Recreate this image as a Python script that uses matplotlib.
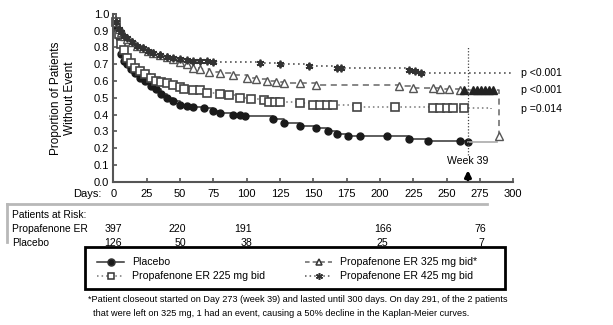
import matplotlib
matplotlib.use("Agg")
import matplotlib.pyplot as plt
from matplotlib.lines import Line2D
from matplotlib.patches import Rectangle
from matplotlib.transforms import blended_transform_factory

plt.rcParams['font.family'] = ['Liberation Sans', 'DejaVu Sans']

# Kaplan-Meier curves
placebo_days = [0, 2, 4, 6, 8, 10, 13, 16, 20, 24, 28, 32, 36, 40, 45, 50, 55, 60, 68, 75, 80, 90, 95, 99,
                120, 128, 140, 152, 161, 168, 176, 185, 205, 222, 236, 260, 266]
placebo_surv = [1.0, 0.93, 0.86, 0.76, 0.72, 0.70, 0.67, 0.65, 0.62, 0.60, 0.57, 0.55, 0.52, 0.50, 0.48, 0.46,
                0.452, 0.447, 0.437, 0.42, 0.41, 0.40, 0.395, 0.39, 0.374, 0.352, 0.332, 0.32, 0.305, 0.285,
                0.272, 0.27, 0.27, 0.255, 0.245, 0.24, 0.235]

er225_days = [0, 2, 4, 6, 8, 10, 13, 16, 20, 24, 28, 32, 36, 40, 45, 50, 53, 60, 65, 70, 80, 87, 95, 103,
              113, 117, 121, 125, 140, 150, 155, 160, 165, 183, 211, 240, 245, 250, 255, 263, 283]
er225_surv = [1.0, 0.95, 0.88, 0.82, 0.785, 0.74, 0.71, 0.68, 0.66, 0.64, 0.62, 0.60, 0.597, 0.59, 0.578,
              0.565, 0.55, 0.548, 0.545, 0.53, 0.52, 0.515, 0.50, 0.495, 0.487, 0.475, 0.473, 0.472, 0.47,
              0.46, 0.458, 0.457, 0.456, 0.447, 0.446, 0.44, 0.44, 0.44, 0.44, 0.438, 0.435]

er325_days = [0, 2, 4, 6, 8, 10, 14, 18, 22, 26, 30, 35, 40, 45, 50, 55, 60, 65, 72, 80, 90, 100, 107, 115,
              122, 128, 140, 152, 214, 225, 240, 245, 252, 260, 263, 270, 273, 276, 279, 282, 285, 289]
er325_surv = [1.0, 0.95, 0.91, 0.89, 0.87, 0.85, 0.83, 0.81, 0.795, 0.78, 0.765, 0.755, 0.745, 0.73, 0.715,
              0.70, 0.68, 0.67, 0.656, 0.645, 0.636, 0.62, 0.61, 0.60, 0.595, 0.59, 0.588, 0.577, 0.57, 0.56,
              0.556, 0.553, 0.55, 0.545, 0.545, 0.545, 0.545, 0.545, 0.545, 0.545, 0.545, 0.27]

er425_days = [0, 2, 4, 6, 8, 10, 14, 18, 22, 26, 30, 35, 40, 45, 50, 55, 60, 65, 70, 75, 110, 125, 147,
              168, 171, 222, 226, 231, 300]
er425_surv = [1.0, 0.95, 0.91, 0.89, 0.87, 0.855, 0.835, 0.81, 0.795, 0.78, 0.765, 0.755, 0.745, 0.735,
              0.73, 0.725, 0.722, 0.72, 0.717, 0.716, 0.71, 0.70, 0.69, 0.678, 0.675, 0.665, 0.66, 0.65, 0.65]

p_values = ["p <0.001", "p <0.001", "p =0.014"]
p_levels = [0.65, 0.545, 0.435]

risk_days_er = [0, 48, 97, 202, 275]
risk_er = [397, 220, 191, 166, 76]
risk_days_pl = [0, 50, 100, 202, 276]
risk_pl = [126, 50, 38, 25, 7]

W, H = 613, 325
fig = plt.figure(figsize=(W / 100, H / 100), dpi=100)


def fx(x):
    return x / W


def fy(y):
    return 1 - y / H


ax = fig.add_axes([fx(113.3), fy(181.7), 400 / W, 167.8 / H])
ax.set_xlim(0, 300)
ax.set_ylim(0, 1.0)
for s in ["top", "right"]:
    ax.spines[s].set_visible(False)
for s in ["left", "bottom"]:
    ax.spines[s].set_color("#555555")
    ax.spines[s].set_linewidth(1.5)
ax.set_xticks(range(0, 301, 25))
ax.set_yticks([i / 10 for i in range(11)])
ax.set_yticklabels([f"{i / 10:.1f}" for i in range(11)])
ax.tick_params(direction="in", length=3, width=1.2, color="#555555", labelsize=8, pad=3)
ax.tick_params(axis="x", pad=5)

# placebo
ax.plot(placebo_days, placebo_surv, drawstyle="steps-post", color="#333333", lw=1.1, clip_on=False)
ax.plot(placebo_days[1:], placebo_surv[1:], ls="none", marker="o", ms=5, color="#1a1a1a", clip_on=False)
ax.plot([266, 288], [0.235, 0.235], color="#aaaaaa", lw=1.2)

# 225 mg
ax.plot(er225_days, er225_surv, drawstyle="steps-post", color="#777777", lw=1.1, ls=(0, (1, 2)), clip_on=False)
ax.plot(er225_days[1:-1], er225_surv[1:-1], ls="none", marker="s", ms=5.5, mfc="white", mec="#444444",
        mew=1.2, clip_on=False)

# 325 mg
ax.plot(er325_days, er325_surv, drawstyle="steps-post", color="#666666", lw=1.1, ls=(0, (4, 3)), clip_on=False)
ax.plot(er325_days[1:-8], er325_surv[1:-8], ls="none", marker="^", ms=5.5, mfc="white", mec="#555555",
        mew=1.0, clip_on=False)
ax.plot(er325_days[-8:-1], er325_surv[-8:-1], ls="none", marker="^", ms=5.5, color="#222222", clip_on=False)
ax.plot(er325_days[-1:], er325_surv[-1:], ls="none", marker="^", ms=5.5, mfc="white", mec="#555555",
        mew=1.0, clip_on=False)

# 425 mg
ax.plot(er425_days, er425_surv, drawstyle="steps-post", color="#555555", lw=1.2, ls=(0, (1, 2)), clip_on=False)
ax.plot(er425_days[1:-1], er425_surv[1:-1], ls="none", marker=(6, 2, 0), ms=5.5, color="#333333",
        mew=1.3, clip_on=False)

# week 39
ax.plot([266, 266], [0.16, 0.80], color="#444444", lw=0.9, ls=(0, (1, 1.5)))
ax.text(266, 0.123, "Week 39", ha="center", va="center", fontsize=7.6)
ax.annotate("", xy=(266, 0.085), xytext=(266, -0.005), annotation_clip=False,
            arrowprops=dict(arrowstyle="-|>", color="black", lw=2.2, mutation_scale=9))

for lbl, lev in zip(p_values, p_levels):
    ax.text(306, lev, lbl, ha="left", va="center", fontsize=7.6, clip_on=False)

fig.text(fx(63), fy(98), "Proportion of Patients\nWithout Event", rotation=90, ha="center", va="center",
         fontsize=8.5, linespacing=1.2)
fig.text(fx(101), fy(194), "Days:", ha="right", va="center", fontsize=8)

# patients at risk box
fig.add_artist(Line2D([fx(7), fx(487)], [fy(204), fy(204)], color="#b8b8b8", lw=2))
fig.add_artist(Line2D([fx(7), fx(7)], [fy(204), fy(242)], color="#b8b8b8", lw=2))
fig.text(fx(12), fy(215), "Patients at Risk:", va="center", fontsize=7.4)
fig.text(fx(12), fy(229), "Propafenone ER", va="center", fontsize=7.4)
fig.text(fx(12), fy(243), "Placebo", va="center", fontsize=7.4)
tr = blended_transform_factory(ax.transData, fig.transFigure)
for d, n in zip(risk_days_er, risk_er):
    ax.text(d, fy(229), str(n), transform=tr, ha="center", va="center", fontsize=7.6)
for d, n in zip(risk_days_pl, risk_pl):
    ax.text(d, fy(243), str(n), transform=tr, ha="center", va="center", fontsize=7.6)

# legend box
fig.add_artist(Rectangle((fx(85), fy(289)), (505 - 85) / W, (289 - 247) / H, transform=fig.transFigure,
                         fill=False, edgecolor="black", lw=2))
leg = [
    (97, 262, "-", "o", "#333333", "#1a1a1a", "Placebo"),
    (97, 276, (0, (1, 2)), "s", "#777777", "white", "Propafenone ER 225 mg bid"),
    (305, 262, (0, (3, 2)), "^", "#666666", "white", "Propafenone ER 325 mg bid*"),
    (305, 276, (0, (1, 2)), (6, 2, 0), "#555555", "#333333", "Propafenone ER 425 mg bid"),
]
for x0, y0, ls, mk, lc, mf, lbl in leg:
    fig.add_artist(Line2D([fx(x0), fx(x0 + 27)], [fy(y0), fy(y0)], color=lc, ls=ls, lw=1.1))
    fig.add_artist(Line2D([fx(x0 + 13.5)], [fy(y0)], marker=mk, ms=5, mfc=mf, mec="#333333", mew=1.1))
    fig.text(fx(x0 + 35), fy(y0), lbl, va="center", fontsize=7.6)

fig.text(fx(88), fy(300), "*Patient closeout started on Day 273 (week 39) and lasted until 300 days. "
         "On day 291, of the 2 patients", va="center", fontsize=6.55)
fig.text(fx(93), fy(314), "that were left on 325 mg, 1 had an event, causing a 50% decline in the "
         "Kaplan-Meier curves.", va="center", fontsize=6.55)

fig.savefig("out.png", dpi=100)
